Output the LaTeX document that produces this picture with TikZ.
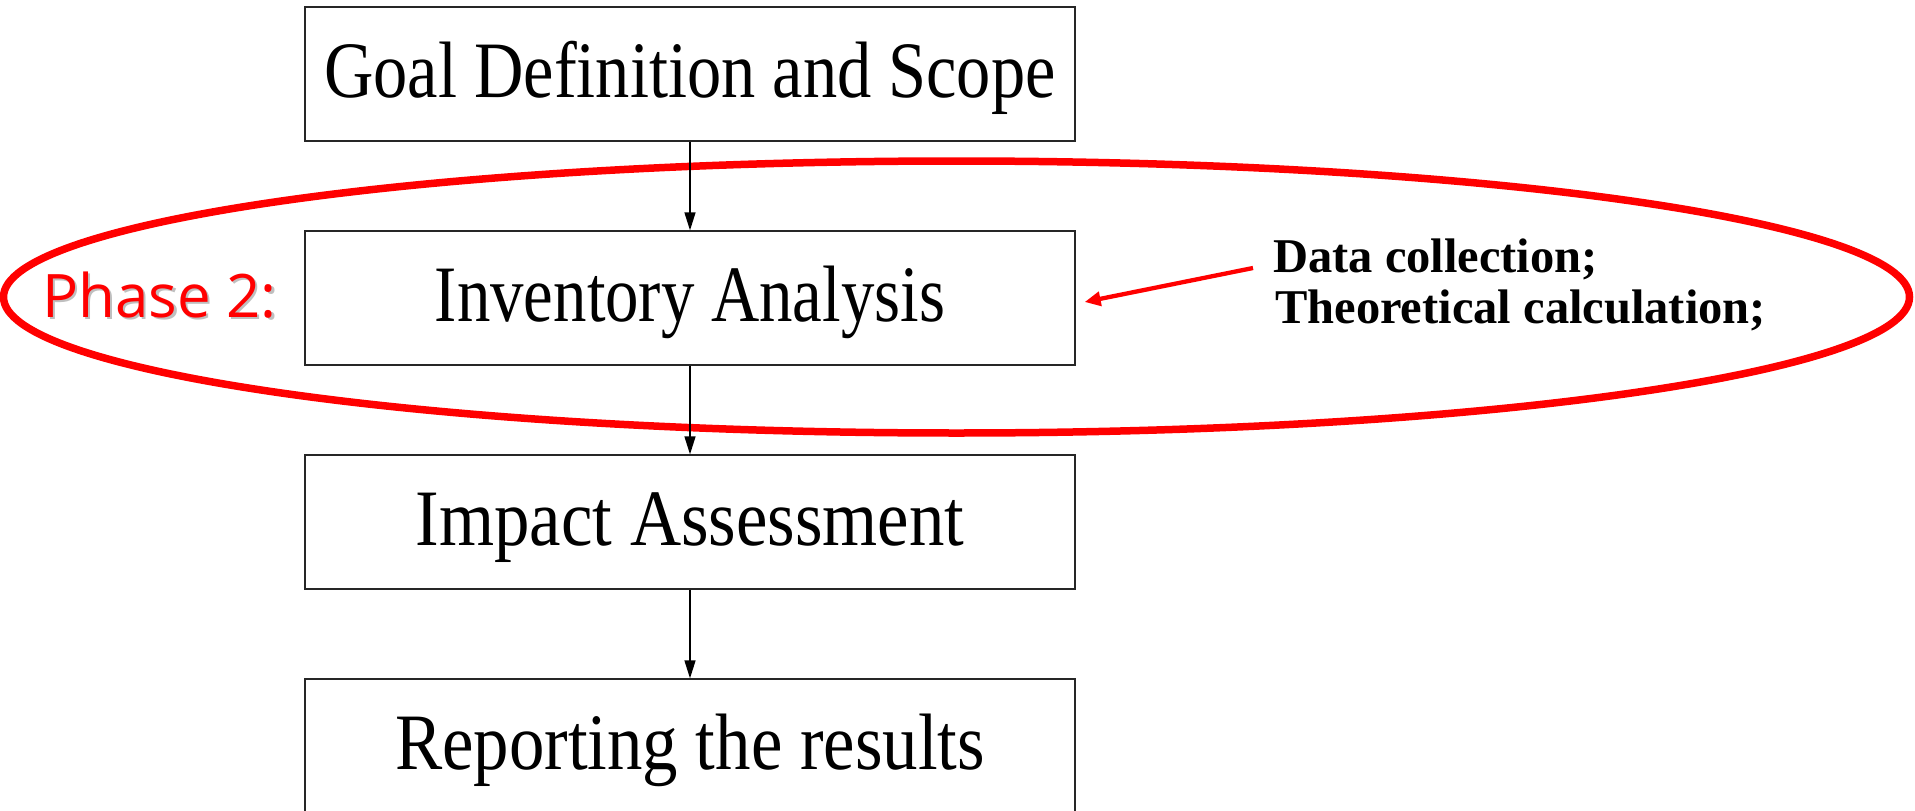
\documentclass[tikz,border=0pt]{standalone}
\usepackage{fontspec}
\setmainfont{Liberation Serif}
\newfontfamily\phasefont{Open Sans}
\usetikzlibrary{arrows.meta}
\definecolor{pred}{RGB}{255,0,0}
\begin{document}
\begin{tikzpicture}[x=1pt,y=-1pt,
  stepbox/.style={draw=black!85, line width=1.3pt, fill=white,
    minimum width=770pt, minimum height=134pt, inner sep=0pt,
    text height=52pt, text depth=6pt, font=\fontsize{80}{80}\selectfont},
  flow/.style={-{Triangle[length=18pt,width=11pt]}, line width=1.4pt},
  phasetxt/.style={anchor=base west, inner sep=0pt, font=\phasefont\fontsize{60}{60}\selectfont},
  datatxt/.style={anchor=base west, inner sep=0pt, font=\bfseries\fontsize{48.5}{51}\selectfont},
  ring/.style={draw=pred, line width=7.5pt},
  pointer/.style={draw=pred, line width=4.3pt, -{Triangle[length=16pt,width=14pt]}}
]
\useasboundingbox (0,0) rectangle (1915,811);
\draw[ring] (956.5,297) ellipse [x radius=953pt, y radius=136pt];

\node[stepbox] (b1) at (690,74)  {\scalebox{0.855}[1]{Goal Definition and Scope}};
\node[stepbox] (b2) at (690,298) {\scalebox{0.835}[1]{Inventory Analysis}};
\node[stepbox] (b3) at (690,522) {\scalebox{0.885}[1]{Impact Assessment}};
\node[stepbox] (b4) at (690,746) {\scalebox{0.885}[1]{Reporting the results}};

\draw[flow] (b1) -- (b2);
\draw[flow] (b2) -- (b3);
\draw[flow] (b3) -- (b4);

\node[phasetxt, text=black!25] (phs) at (44.5,319.5) {Phase 2:};
\node[phasetxt, text=pred] (ph) at (42,317) {Phase 2:};

\node[datatxt] (d1) at (1273,272) {Data collection;};
\node[datatxt] (d2) at (1275,323) {Theoretical calculation;};
\coordinate (rs) at ([xshift=-20pt,yshift=4pt]d1.base west);
\draw[pointer] (rs) -- ([xshift=9pt,yshift=-4pt]b2.east);
\end{tikzpicture}
\end{document}
